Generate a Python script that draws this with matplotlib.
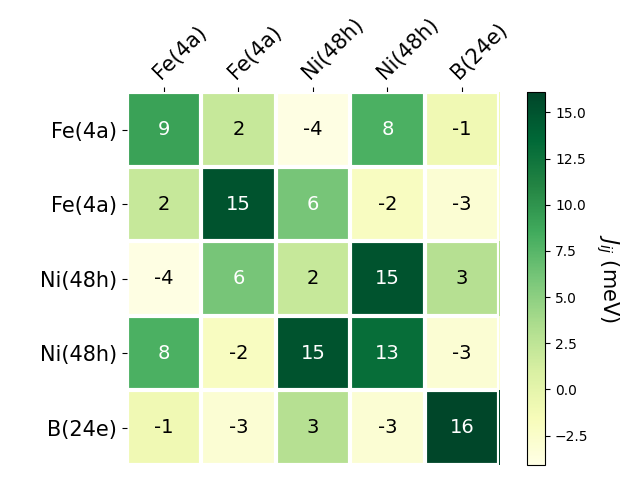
import numpy as np
import matplotlib.pyplot as plt

sites = ['Fe(4a)', 'Fe(4a)', 'Ni(48h)', 'Ni(48h)', 'B(24e)']
row0 = [9, 2, -4, 8, -1]
row1 = [2, 15, 6, -2, -3]
row2 = [-4, 6, 2, 15, 3]
row3 = [8, -2, 15, 13, -3]
row4 = [-1, -3, 3, -3, 16]
J = np.array([row0, row1, row2, row3, row4])

fig = plt.figure(figsize=(6.4, 4.8), dpi=100)
ax = fig.add_axes([0.198, 0.031, 0.582, 0.777])
cax = fig.add_axes([0.823, 0.031, 0.029, 0.777])

im = ax.imshow(J, cmap='YlGn', vmin=-4.1, vmax=16.1)
cbar = fig.colorbar(im, cax=cax)
cbar.ax.set_ylabel(r'$J_{ij}$ (meV)', rotation=-90, va='bottom', fontsize=15)

ax.set_xticks(np.arange(len(sites)))
ax.set_yticks(np.arange(len(sites)))
ax.set_xticklabels(sites, fontsize=15)
ax.set_yticklabels(sites, fontsize=15)
ax.tick_params(top=True, bottom=False, labeltop=True, labelbottom=False)
plt.setp(ax.get_xticklabels(), rotation=45, ha='left', rotation_mode='anchor')

for s in ax.spines.values():
    s.set_visible(False)
ax.set_xticks(np.arange(len(sites) + 1) - .5, minor=True)
ax.set_yticks(np.arange(len(sites) + 1) - .5, minor=True)
ax.grid(which='minor', color='w', linestyle='-', linewidth=3)
ax.tick_params(which='minor', bottom=False, left=False, top=False)

for i in range(J.shape[0]):
    for j in range(J.shape[1]):
        c = 'white' if J[i, j] > 5 else 'black'
        ax.text(j, i, '%d' % J[i, j], ha='center', va='center', color=c, fontsize=14)

plt.savefig('out.png')
